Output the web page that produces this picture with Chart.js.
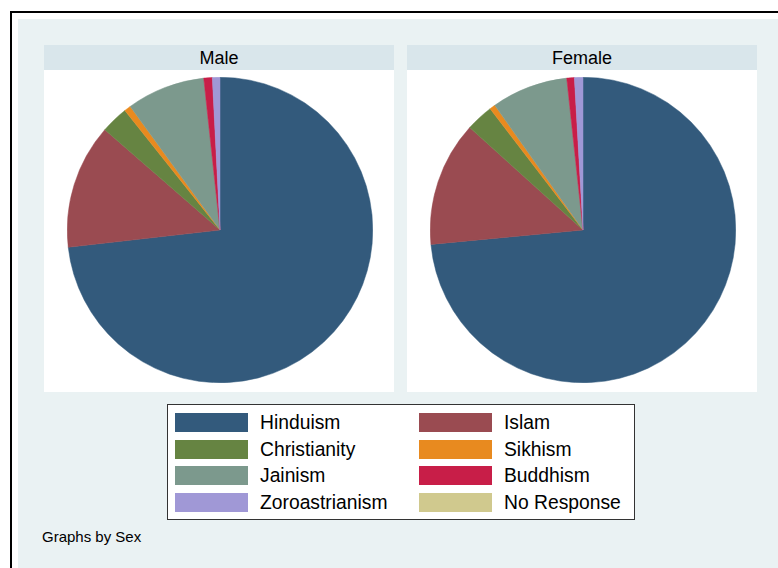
<!DOCTYPE html>
<html>
<head>
<meta charset="utf-8">
<script src="https://cdn.jsdelivr.net/npm/chart.js@4"></script>
<style>
  body { margin: 0; width: 778px; height: 568px; overflow: hidden; background: #fff; font-family: "Liberation Sans", Arial, sans-serif; position: relative; }
  #frame { position: absolute; left: 10px; top: 11px; width: 900px; height: 700px; border: 2px solid #000; }
  #bg { position: absolute; left: 18px; top: 19px; width: 900px; height: 700px; background: #eaf2f3; }
  .panel { position: absolute; top: 45px; width: 350px; height: 347px; background: #fff; }
  .panel .head { height: 25px; background: #d9e6eb; text-align: center; font-size: 18px; line-height: 26px; color: #000; }
  canvas { position: absolute; }
  #legend { position: absolute; left: 167px; top: 404px; width: 466px; height: 114px; background: #fff; border: 1px solid #333; }
  .item { position: absolute; height: 20px; font-size: 19.3px; line-height: 20px; color: #000; white-space: nowrap; }
  .item span { position: absolute; left: 0; top: 0; width: 73px; height: 19px; }
  .item b { position: absolute; left: 85px; top: 0; font-weight: normal; }
  #note { position: absolute; left: 42px; top: 528px; font-size: 15px; color: #000; }
</style>
</head>
<body>
<div id="frame"></div>
<div id="bg"></div>
<div class="panel" style="left:44px"><div class="head" id="head-0"></div></div>
<div class="panel" style="left:407px"><div class="head" id="head-1"></div></div>
<canvas id="pie-male" width="306" height="306" style="left:67px; top:77px"></canvas>
<canvas id="pie-female" width="306" height="306" style="left:430px; top:77px"></canvas>
<div id="legend"></div>
<div id="note">Graphs by Sex</div>

<script>
// dados (% por religião)
var religions = ['Hinduism', 'Islam', 'Christianity', 'Sikhism', 'Jainism', 'Buddhism', 'Zoroastrianism', 'No Response'];
var sliceColors = ['#335a7c', '#9a4b51', '#668442', '#e88a1f', '#7c998d', '#c81e48', '#a098d6', '#d0c98e'];
var maleShares = [73.2, 13.2, 2.9, 0.7, 8.3, 0.9, 0.8, 0];
var femaleShares = [73.5, 13.2, 2.9, 0.6, 8.1, 0.8, 0.9, 0];
var panelTitles = ['Male', 'Female'];

function buildPie(id, values)
{
    var ctx = document.getElementById(id).getContext('2d');
    new Chart(ctx, {
        type: 'pie',
        data: {
            labels: religions,
            datasets: [{
                data: values,
                backgroundColor: sliceColors,
                borderColor: sliceColors,
                borderWidth: 0.5,
            }],
        },
        options: {
            responsive: false,
            animation: false,
            devicePixelRatio: 1,
            layout: { padding: 0 },
            plugins: {
                legend: { display: false },
                tooltip: { enabled: false },
            },
        },
    });
}

function buildLegend()
{
    var box = document.getElementById('legend');
    religions.forEach(function(name, i) {
        var col = i % 2, row = Math.floor(i / 2);
        var el = document.createElement('div');
        el.className = 'item';
        el.style.left = (col == 0 ? 7 : 251) + 'px';
        el.style.top = (8 + row * 26.5) + 'px';
        el.innerHTML = '<span style="background:' + sliceColors[i] + '"></span><b>' + name + '</b>';
        box.appendChild(el);
    });
}

panelTitles.forEach(function(t, i) {
    document.getElementById('head-' + i).textContent = t;
});
buildPie('pie-male', maleShares);
buildPie('pie-female', femaleShares);
buildLegend();
</script>
</body>
</html>
